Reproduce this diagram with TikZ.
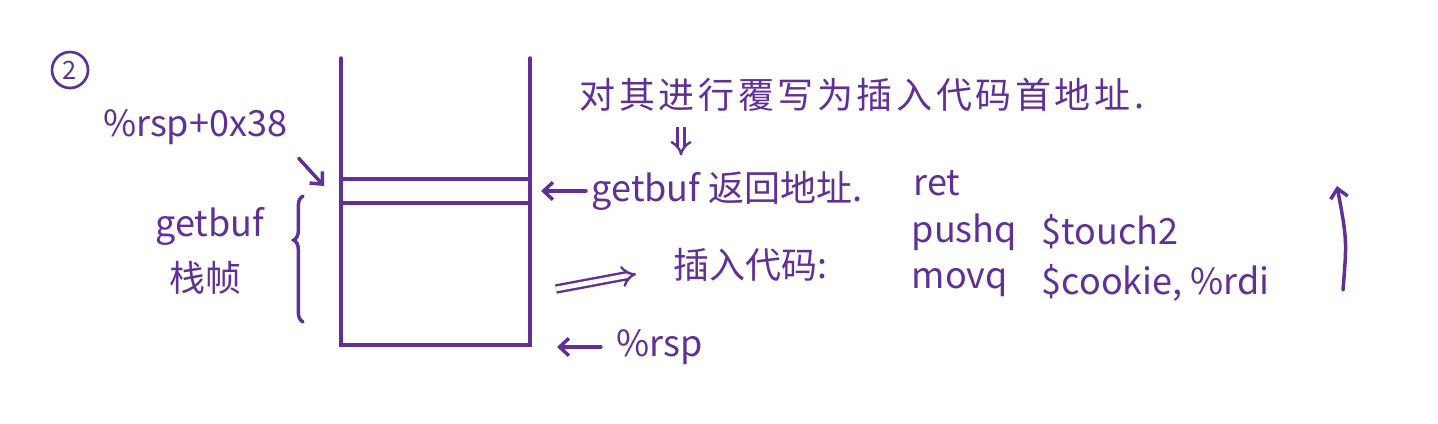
\documentclass[tikz,border=0pt]{standalone}
\usepackage{fontspec}
\setmainfont{Noto Sans CJK SC}
\usetikzlibrary{arrows.meta,decorations.pathreplacing}
\definecolor{pen}{RGB}{96,48,148}
\tikzset{every picture/.style={line width=2.6pt}}
\tikzset{
  hand/.style={font=\fontsize{27}{30}\selectfont, text=pen, inner sep=0pt},
  wide hand/.style={hand, font=\fontsize{27}{30}\selectfont\addfontfeature{LetterSpace=10}},
  pen arrow/.style={draw=pen, line width=2.6pt, line cap=round, -{Straight Barb[length=7pt,width=13pt]}},
  pen double/.style={draw=pen, line width=1.8pt, double, double distance=3.5pt, -Implies}
}

\begin{document}
\begin{tikzpicture}[x=0.75pt,y=0.75pt,yscale=-1,xscale=1,line width=2.6pt]
	%set diagram left start at 0, and has height of 424
	\path (0,0) rectangle (1438,424);
	
	% Text Node: circled number
	\node [draw=pen, circle, line width=2pt, minimum size=27pt, inner sep=0pt, text=pen, font=\fontsize{19}{19}\selectfont] (num) at (70,70) {2};
	
	%Shape: Stack frame
	\draw [pen, line cap=round] (341,58) -- (341,345) -- (530,345) -- (530,58) ;
	%Straight Lines: return address slot
	\draw [pen] (341,179) -- (530,179) ;
	\draw [pen] (341,203) -- (530,203) ;
	\coordinate (slot top) at (324,186);
	\coordinate (slot right) at (541,191);
	\coordinate (frame bottom) at (557,347);
	
	% Text Node
	\node [hand] (offset) at (195,127) {\%rsp+0x38};
	\draw [pen arrow] (offset.south east) ++(10,12) -- (slot top) ;
	
	%Shape: Brace
	\draw [pen, line cap=round, decorate, decoration={brace, amplitude=7pt, aspect=0.65}] (303,322) -- (303,196) ;
	% Text Node
	\node [hand] (frame name) at (210,226) {getbuf};
	\node [hand] (frame label) at (205,278) {栈帧};
	
	% Text Node
	\node [wide hand, anchor=west] (note) at (578,95) {对其进行覆写为插入代码首地址.};
	\node [hand, anchor=west] (ret addr) at (590,191) {getbuf 返回地址.};
	\draw [pen double] (note.south -| 681,0) ++(0,14) -- ++(0,28) ;
	\draw [pen arrow] (ret addr.west) ++(-4,0) -- (slot right) ;
	
	% Text Node
	\node [hand, anchor=west] (code label) at (672,265) {插入代码:};
	\draw [pen double] (code label.west) ++(-116,24) -- ++(80,-15) ;
	
	% Text Node: inserted code
	\node [hand, anchor=west] (ret) at (912,183) {ret};
	\node [hand, anchor=west] (push) at (910,232) {pushq};
	\node [hand, anchor=west] (push arg) at (1040,232) {\$touch2};
	\node [hand, anchor=west] (mov) at (910,283) {movq};
	\node [hand, anchor=west] (mov arg) at (1040,283) {\$cookie, \%rdi};
	\coordinate (run start) at (1343,290);
	\coordinate (run end) at (1337,186);
	\draw [pen arrow] (run start) .. controls (1347,240) .. (run end) ;
	
	% Text Node
	\node [hand, anchor=west] (rsp) at (615,347) {\%rsp};
	\draw [pen arrow] (rsp.west) ++(-14,0) -- (frame bottom) ;
	
\end{tikzpicture}
\end{document}
